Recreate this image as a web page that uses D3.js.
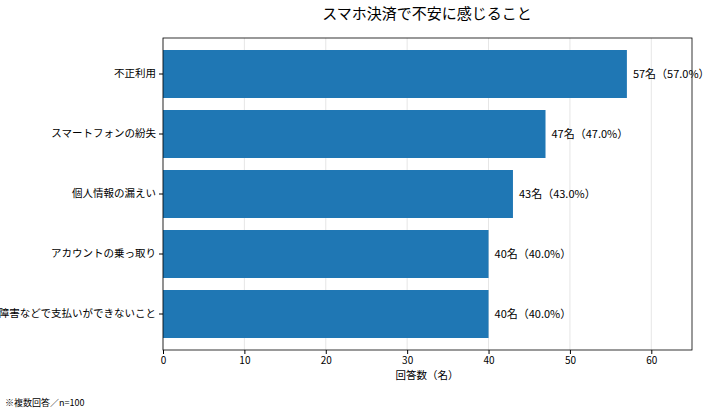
<!DOCTYPE html><html><head><meta charset="utf-8"><script src="https://cdn.jsdelivr.net/npm/d3@7"></script>
<style>body{margin:0;background:#fff}text{font-family:"Noto Sans CJK JP","Noto Sans",sans-serif}</style></head><body>
<svg id="c" width="710" height="414"></svg>
<script>
const categories=["不正利用","スマートフォンの紛失","個人情報の漏えい","アカウントの乗っ取り","障害などで支払いができないこと"];
const values=[57,47,43,40,40];
const pcts=["57.0%","47.0%","43.0%","40.0%","40.0%"];
const ticks=[0,10,20,30,40,50,60];
const svg=d3.select("#c");
const L=163,R=692,T=38,B=350;
const x=d3.scaleLinear().domain([0,65]).range([L,R]);
const y=d3.scaleBand().domain(categories).range([T,B]).paddingInner(0.2).paddingOuter(0.2);
svg.append("g").selectAll("line").data(ticks).join("line").attr("x1",d=>x(d)).attr("x2",d=>x(d)).attr("y1",T).attr("y2",B).attr("stroke","#e6e6e6");
svg.append("g").selectAll("rect").data(values).join("rect").attr("x",x(0)).attr("y",(d,i)=>y(categories[i])).attr("width",d=>x(d)-x(0)).attr("height",y.bandwidth()).attr("fill","#1f77b4");
svg.append("g").selectAll("text").data(values).join("text").attr("x",d=>x(d)+6).attr("y",(d,i)=>y(categories[i])+y.bandwidth()/2).attr("dy","0.35em").attr("font-size",11).text((d,i)=>d+"名（"+pcts[i]+"）");
svg.append("rect").attr("x",L).attr("y",T).attr("width",R-L).attr("height",B-T).attr("fill","none").attr("stroke","#000").attr("stroke-width",0.8);
const ax=svg.append("g").attr("transform",`translate(0,${B})`).call(d3.axisBottom(x).tickValues(ticks).tickSize(4).tickSizeOuter(0));
ax.select(".domain").remove();ax.selectAll("text").attr("font-size",10);
const ay=svg.append("g").attr("transform",`translate(${L},0)`).call(d3.axisLeft(y).tickSize(4).tickSizeOuter(0));
ay.select(".domain").remove();ay.selectAll("text").attr("font-size",10.5);
svg.append("text").attr("x",427).attr("y",19).attr("text-anchor","middle").attr("font-size",15).text("スマホ決済で不安に感じること");
svg.append("text").attr("x",427).attr("y",379).attr("text-anchor","middle").attr("font-size",10.5).text("回答数（名）");
svg.append("text").attr("x",5).attr("y",406).attr("font-size",9).text("※複数回答／n=100");
</script></body></html>
